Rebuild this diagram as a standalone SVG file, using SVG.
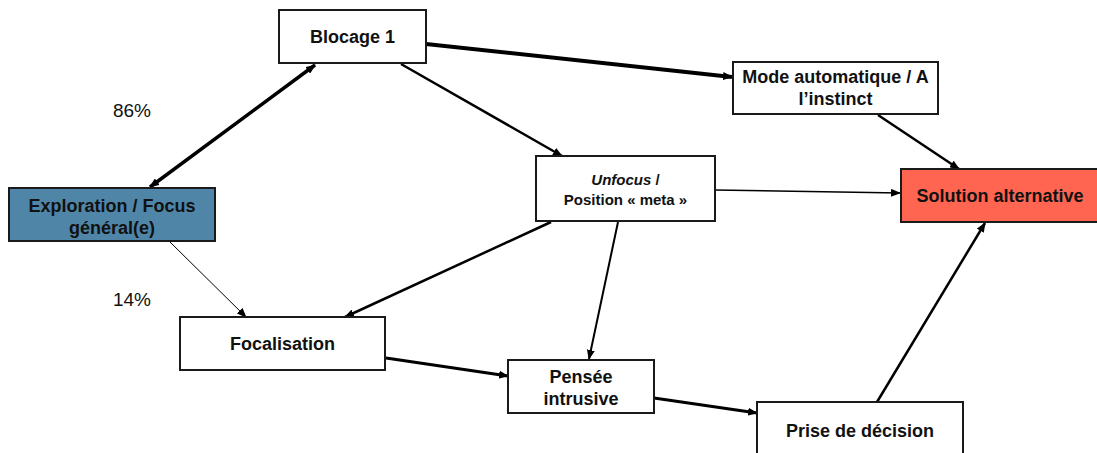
<svg xmlns="http://www.w3.org/2000/svg" width="1097" height="453" viewBox="0 0 1097 453">
<style>
.box{fill:#fff;stroke:#1a1a1a;stroke-width:2}
.t{font-family:"Liberation Sans",Arial,sans-serif;font-weight:bold;font-size:18px;fill:#111;text-anchor:middle}
.s{font-size:15px}
.p{font-family:"Liberation Sans",Arial,sans-serif;font-size:19px;fill:#111;text-anchor:middle}
.c{stroke:#000;fill:none}
</style>
<defs>
<marker id="ah" viewBox="0 0 10 8" refX="9" refY="4" markerWidth="10" markerHeight="8" markerUnits="userSpaceOnUse" orient="auto-start-reverse">
<path d="M0,0 L10,4 L0,8 z" fill="#000"/>
</marker>
</defs>
<g id="connectors">
<line class="c" x1="150" y1="187" x2="315" y2="65" stroke-width="3.5" marker-start="url(#ah)" marker-end="url(#ah)"/>
<line class="c" x1="426" y1="44" x2="732" y2="77" stroke-width="4" marker-end="url(#ah)"/>
<line class="c" x1="401" y1="64" x2="562" y2="156" stroke-width="2.5" marker-end="url(#ah)"/>
<line class="c" x1="878" y1="115" x2="959" y2="169" stroke-width="2.5" marker-end="url(#ah)"/>
<line class="c" x1="715" y1="190" x2="900" y2="193" stroke-width="1.5" marker-end="url(#ah)"/>
<line class="c" x1="551" y1="222" x2="345" y2="317" stroke-width="2.5" marker-end="url(#ah)"/>
<line class="c" x1="618" y1="222" x2="589" y2="359" stroke-width="2" marker-end="url(#ah)"/>
<line class="c" x1="170" y1="242" x2="246" y2="317" stroke-width="1" marker-end="url(#ah)"/>
<line class="c" x1="386" y1="358" x2="508" y2="376" stroke-width="3" marker-end="url(#ah)"/>
<line class="c" x1="654" y1="398" x2="757" y2="413" stroke-width="3" marker-end="url(#ah)"/>
<line class="c" x1="877" y1="402" x2="985" y2="223" stroke-width="2.5" marker-end="url(#ah)"/>
</g>
<g id="blocage1">
<rect class="box" x="279" y="10" width="147" height="53"/>
<text class="t" x="352.5" y="43">Blocage 1</text>
</g>
<g id="exploration">
<rect class="box" x="9" y="188" width="206" height="53" style="fill:#4F86A8"/>
<text class="t" x="112" y="212">Exploration / Focus</text>
<text class="t" x="112" y="234">général(e)</text>
</g>
<g id="mode">
<rect class="box" x="733" y="62" width="205" height="52"/>
<text class="t" x="835.5" y="83">Mode automatique / A</text>
<text class="t" x="835.5" y="105">l’instinct</text>
</g>
<g id="unfocus">
<rect class="box" x="536" y="156" width="179" height="65"/>
<text class="t s" x="625.5" y="185"><tspan font-style="italic">Unfocus</tspan> /</text>
<text class="t s" x="625.5" y="205">Position « meta »</text>
</g>
<g id="solution">
<rect class="box" x="901" y="169" width="200" height="53" style="fill:#FF6550"/>
<text class="t" x="1000" y="202">Solution alternative</text>
</g>
<g id="focalisation">
<rect class="box" x="180" y="317" width="205" height="53"/>
<text class="t" x="282.5" y="350">Focalisation</text>
</g>
<g id="pensee">
<rect class="box" x="508" y="360" width="146" height="53"/>
<text class="t" x="581" y="383">Pensée</text>
<text class="t" x="581" y="405">intrusive</text>
</g>
<g id="prise">
<rect class="box" x="757" y="402" width="206" height="60"/>
<text class="t" x="860" y="437">Prise de décision</text>
</g>
<g id="labels">
<text class="p" x="132" y="117">86%</text>
<text class="p" x="132" y="306">14%</text>
</g>
</svg>
